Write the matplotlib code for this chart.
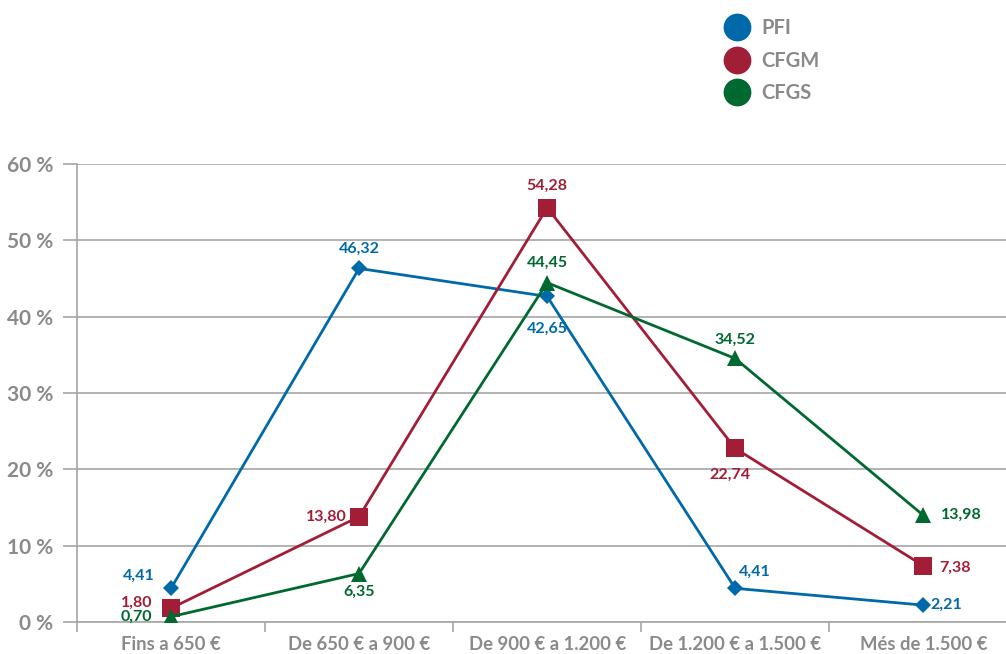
import matplotlib.pyplot as plt
from matplotlib.lines import Line2D

plt.rcParams['font.family'] = ['Lato', 'DejaVu Sans']
plt.rcParams['font.weight'] = 'bold'

# categories and series values (%)
categories = ['Fins a 650 €', 'De 650 € a 900 €', 'De 900 € a 1.200 €',
              'De 1.200 € a 1.500 €', 'Més de 1.500 €']
pfi = [4.41, 46.32, 42.65, 4.41, 2.21]
cfgm = [1.80, 13.80, 54.28, 22.74, 7.38]
cfgs = [0.70, 6.35, 44.45, 34.52, 13.98]
y_ticks = [0, 10, 20, 30, 40, 50, 60]

BLUE = '#0069aa'
RED = '#a21e36'
GREEN = '#00692f'
GREY = '#8a8a8a'
GRID = '#a6a6a6'

fig = plt.figure(figsize=(10.06, 6.54), dpi=100)
ax = fig.add_axes([77 / 1006, 32 / 654, 1 - 77 / 1006, 458 / 654])

x = list(range(len(categories)))
series = [
    ('PFI', pfi, BLUE, 'D', 8.5),
    ('CFGM', cfgm, RED, 's', 12.5),
    ('CFGS', cfgs, GREEN, '^', 11),
]
for name, vals, col, mk, ms in series:
    ax.plot(x, vals, color=col, lw=2, marker=mk, markersize=ms,
            markeredgewidth=0, zorder=3)

# label offsets in pixels (dx, dy, ha)
offsets = {
    'PFI': [(-16, 13, 'right'), (0, 20, 'center'), (0, -32, 'center'),
            (4, 17, 'left'), (7, 0, 'left')],
    'CFGM': [(-19, 5, 'right'), (-12, 0, 'right'), (0, 22, 'center'),
             (-5, -26, 'center'), (16, -2, 'left')],
    'CFGS': [(-19, 0, 'right'), (0, -18, 'center'), (0, 20, 'center'),
             (0, 19, 'center'), (18, 0, 'left')],
}
for name, vals, col, mk, ms in series:
    for i, v in enumerate(vals):
        dx, dy, ha = offsets[name][i]
        ax.annotate(f'{v:.2f}'.replace('.', ','), (i, v),
                    xytext=(dx, dy), textcoords='offset pixels',
                    ha=ha, va='center', color=col, fontsize=11.5,
                    fontweight='bold', zorder=4)

ax.set_xlim(-0.5, 4.44)
ax.set_ylim(0, 60)
ax.set_yticks(y_ticks)
ax.set_yticklabels([f'{t} %' for t in y_ticks])
ax.yaxis.grid(True, color=GRID, lw=1.2)
ax.set_axisbelow(True)

ax.set_xticks([i + 0.5 for i in range(-1, 4)])
ax.set_xticklabels([])
ax.set_xticks(x, minor=True)
ax.set_xticklabels(categories, minor=True)
ax.tick_params(axis='x', which='minor', length=0, pad=10,
               labelsize=13.3, labelcolor=GREY)
ax.tick_params(axis='x', which='major', length=7, color=GRID, width=1.2)
ax.tick_params(axis='y', length=10, color=GRID, width=1.2, pad=7,
               labelsize=15, labelcolor=GREY)

for s in ['top', 'right']:
    ax.spines[s].set_visible(False)
for s in ['left', 'bottom']:
    ax.spines[s].set_color(GRID)
    ax.spines[s].set_linewidth(1.2)

handles = [Line2D([], [], ls='none', marker='o', markersize=20,
                  color=c, markeredgewidth=0) for c in (BLUE, RED, GREEN)]
fig.legend(handles, ['PFI', 'CFGM', 'CFGS'], loc='upper left',
           bbox_to_anchor=(704 / 1006, 1 - 0 / 654), frameon=False,
           handletextpad=0.45, labelspacing=0.62, handlelength=1.5,
           prop={'size': 14.5, 'weight': 'bold'}, labelcolor=GREY)

fig.savefig('out.png', dpi=100)
